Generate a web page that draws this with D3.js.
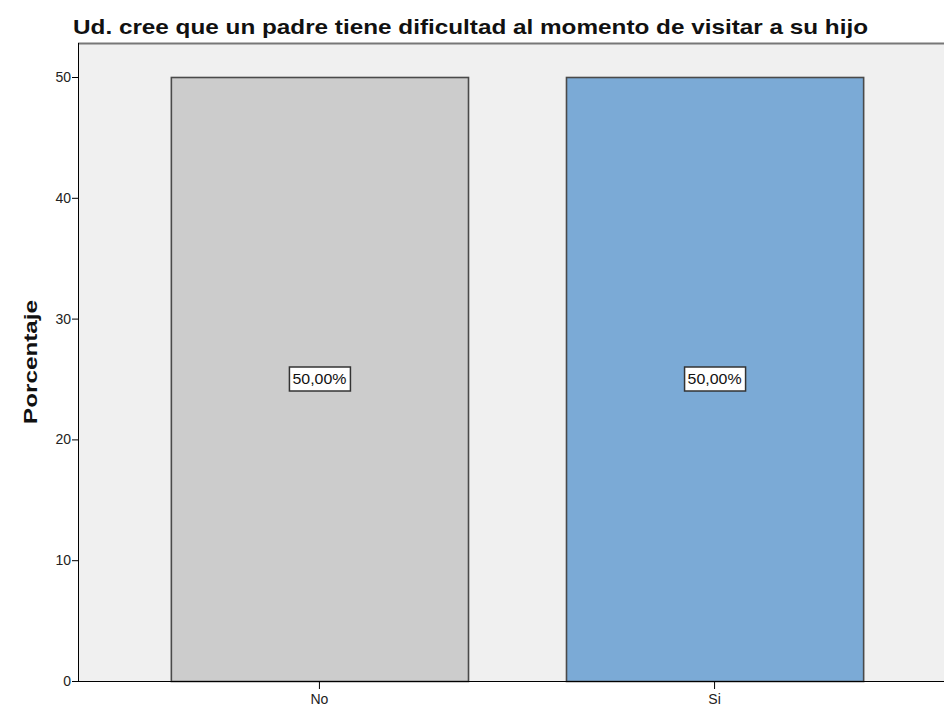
<!DOCTYPE html>
<html>
<head>
<meta charset="utf-8">
<script src="https://cdn.jsdelivr.net/npm/d3@7"></script>
<style>
  body { margin: 0; background: #fff; }
  text { font-family: "Liberation Sans", Arial, sans-serif; }
</style>
</head>
<body>
<script>
// data
const categories = ["No", "Si"];
const values = [50, 50];
const barLabels = ["50,00%", "50,00%"];
const barColors = ["#cccccc", "#7baad6"];
const yTicks = [0, 10, 20, 30, 40, 50];

const width = 944, height = 709;
const plot = {left: 78, top: 43, right: 956, bottom: 681};

const svg = d3.select("body").append("svg")
    .attr("width", width)
    .attr("height", height);

// scales (plot runs past the right edge of the picture)
const x = d3.scaleBand()
    .domain(categories)
    .range([plot.left, plot.right])
    .paddingInner(0.248)
    .paddingOuter(0.235);

const y = d3.scaleLinear()
    .domain([0, 50])
    .range([plot.bottom, 77]);

// plot background
svg.append("rect")
    .attr("x", plot.left)
    .attr("y", plot.top)
    .attr("width", plot.right - plot.left)
    .attr("height", plot.bottom - plot.top)
    .attr("fill", "#f0f0f0");

// top frame line
svg.append("line")
    .attr("x1", plot.left).attr("x2", plot.right)
    .attr("y1", plot.top + 0.5).attr("y2", plot.top + 0.5)
    .attr("stroke", "#777")
    .attr("stroke-width", 2);

// bars
svg.selectAll("rect.bar")
    .data(categories)
    .enter().append("rect")
    .attr("class", "bar")
    .attr("x", d => x(d) + 0.5)
    .attr("y", (d, i) => y(values[i]) + 0.5)
    .attr("width", x.bandwidth())
    .attr("height", (d, i) => y(0) - y(values[i]))
    .attr("fill", (d, i) => barColors[i])
    .attr("stroke", "#4a4a4a")
    .attr("stroke-width", 1.6);

// y axis
const yAxis = svg.append("g")
    .attr("transform", `translate(${plot.left},0)`)
    .call(d3.axisLeft(y).tickValues(yTicks).tickSize(6).tickPadding(1));
yAxis.select(".domain")
    .attr("d", `M0.5,${plot.top}V${plot.bottom}`)
    .attr("stroke", "#000");
yAxis.selectAll("text")
    .attr("font-size", 14)
    .attr("fill", "#222");

// x axis
const xAxis = svg.append("g")
    .attr("transform", `translate(0,${plot.bottom})`)
    .call(d3.axisBottom(x).tickSize(8).tickPadding(5));
xAxis.select(".domain")
    .attr("d", `M${plot.left},0.5H${plot.right}`)
    .attr("stroke", "#000");
xAxis.selectAll("text")
    .attr("font-size", 14)
    .attr("fill", "#222");

// value labels in boxes
const labels = svg.selectAll("g.vlabel")
    .data(categories)
    .enter().append("g")
    .attr("class", "vlabel")
    .attr("transform", (d, i) => `translate(${x(d) + x.bandwidth() / 2},${y(values[i] / 2)})`);

labels.append("rect")
    .attr("x", -30)
    .attr("y", -12)
    .attr("width", 61)
    .attr("height", 24)
    .attr("fill", "#fff")
    .attr("stroke", "#333")
    .attr("stroke-width", 1.5);

labels.append("text")
    .attr("text-anchor", "middle")
    .attr("dy", "0.36em")
    .attr("font-size", 14)
    .attr("textLength", 54)
    .attr("lengthAdjust", "spacingAndGlyphs")
    .attr("fill", "#111")
    .text((d, i) => barLabels[i]);

// title
svg.append("text")
    .attr("x", 73)
    .attr("y", 34)
    .attr("font-size", 21)
    .attr("font-weight", "bold")
    .attr("textLength", 795)
    .attr("lengthAdjust", "spacingAndGlyphs")
    .attr("fill", "#111")
    .text("Ud. cree que un padre tiene dificultad al momento de visitar a su hijo");

// y axis title
svg.append("text")
    .attr("transform", "translate(37,362) rotate(-90)")
    .attr("text-anchor", "middle")
    .attr("font-size", 18)
    .attr("font-weight", "bold")
    .attr("textLength", 124)
    .attr("lengthAdjust", "spacingAndGlyphs")
    .attr("fill", "#111")
    .text("Porcentaje");
</script>
</body>
</html>
